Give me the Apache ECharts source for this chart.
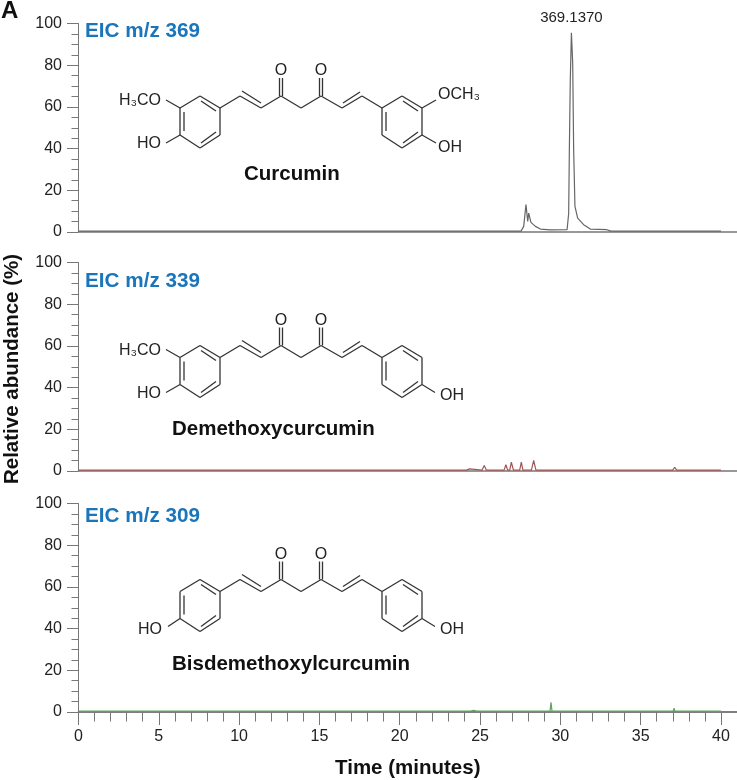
<!DOCTYPE html>
<html>
<head>
<meta charset="utf-8">
<title>EIC curcuminoids</title>
<script src="https://cdn.jsdelivr.net/npm/echarts@6/dist/echarts.min.js"></script>
<style>
  html, body { margin: 0; padding: 0; background: #fff; }
  #chart { width: 737px; height: 780px; }
</style>
</head>
<body>
<div id="chart"></div>
<script>
// values
const curcuminTime = [0, 10, 20, 27.55, 27.62, 27.72, 27.86, 27.97, 28.03, 28.17, 28.45, 28.76, 29.38, 30.42, 30.52, 30.56, 30.62, 30.69, 30.77, 30.83, 30.91, 31.08, 31.45, 31.87, 32.9, 33.15, 40]
const curcuminAbundance = [0.4, 0.4, 0.4, 0.4, 0.8, 2.7, 13.1, 5.1, 9.1, 4.6, 2.7, 1.4, 1.0, 1.1, 9, 38, 73, 95.5, 81, 39.5, 12.3, 6.7, 3.5, 1.4, 1.1, 0.4, 0.4]

const demethoxyTime = [0, 23.9, 24.02, 24.14, 24.25, 24.35, 24.45, 25.12, 25.26, 25.4, 26.5, 26.61, 26.72, 26.85, 26.95, 27.08, 27.47, 27.57, 27.67, 28.2, 28.34, 28.48, 37, 37.12, 37.24, 40]
const demethoxyAbundance = [0.4, 0.4, 1.0, 0.4, 0.4, 1.0, 0.4, 0.4, 2.6, 0.4, 0.4, 3.0, 0.4, 0.4, 4.2, 0.4, 0.4, 4.2, 0.4, 0.4, 5.1, 0.4, 0.4, 1.8, 0.4, 0.4]

const bisdemethoxyTime = [0, 24.4, 24.6, 24.8, 29.36, 29.42, 29.48, 37.03, 37.08, 37.13, 40]
const bisdemethoxyAbundance = [0.4, 0.4, 0.8, 0.4, 0.4, 4.6, 0.4, 0.4, 1.9, 0.4, 0.4]

const yTicks = [0, 20, 40, 60, 80, 100]
const xMajorTicks = [0, 5, 10, 15, 20, 25, 30, 35, 40]
const xMinorTicks = [...Array(41).keys()]

const panelNames = ['EIC m/z 369', 'EIC m/z 339', 'EIC m/z 309']
const compoundNames = ['Curcumin', 'Demethoxycurcumin', 'Bisdemethoxylcurcumin']
const peakLabel = '369.1370'

const FONT = '"Liberation Sans", Arial, sans-serif'
const AXIS_GRAY = '#777'
const panelTop = [23.5, 262.5, 503.5]
const PANEL_HEIGHT = 208.5

const pairs = (xs, ys) => xs.map((x, i) => [x, ys[i]])

const grids = panelTop.map(top => ({ left: 78.5, width: 658.5, top, height: PANEL_HEIGHT }))

const baseXAxis = (gridIndex) => ({
  type: 'value',
  gridIndex,
  position: 'bottom',
  min: 0,
  max: 41,
  splitLine: { show: false },
  axisLine: { onZero: false, lineStyle: { color: AXIS_GRAY, width: 1.5 } },
  axisTick: { show: false },
  axisLabel: { show: false }
})

const xAxes = [
  baseXAxis(0),
  baseXAxis(1),
  {
    ...baseXAxis(2),
    axisTick: { show: true, length: 13, customValues: xMajorTicks, lineStyle: { color: AXIS_GRAY } },
    axisLabel: {
      show: true,
      customValues: xMajorTicks,
      margin: 17,
      color: '#222',
      fontFamily: FONT,
      fontSize: 16
    },
    name: 'Time (minutes)',
    nameLocation: 'middle',
    nameGap: 46,
    nameTextStyle: { color: '#111', fontFamily: FONT, fontWeight: 'bold', fontSize: 20.5 }
  },
  {
    ...baseXAxis(2),
    axisTick: { show: true, length: 9.5, customValues: xMinorTicks, lineStyle: { color: AXIS_GRAY } }
  }
]

const yAxes = panelTop.map((_, gridIndex) => ({
  type: 'value',
  gridIndex,
  min: 0,
  max: 100,
  interval: 20,
  splitLine: { show: false },
  axisLine: { show: true, onZero: false, lineStyle: { color: AXIS_GRAY } },
  axisTick: { show: true, length: 11.5, lineStyle: { color: AXIS_GRAY } },
  minorTick: { show: true, splitNumber: 4, length: 7, lineStyle: { color: AXIS_GRAY } },
  axisLabel: {
    margin: 16.5,
    color: '#222',
    fontFamily: FONT,
    fontSize: 16,
    customValues: yTicks
  }
}))

const trace = (name, axisIndex, color, data, extra) => ({
  name,
  type: 'line',
  xAxisIndex: axisIndex,
  yAxisIndex: axisIndex,
  data,
  showSymbol: false,
  silent: true,
  lineStyle: { color, width: 1.2 },
  ...extra
})

// structure drawing
const STROKE = '#333'

const bond = (x1, y1, x2, y2, dy) => ({
  type: 'line',
  silent: true,
  shape: { x1, y1: y1 + dy, x2, y2: y2 + dy },
  style: { stroke: STROKE, lineWidth: 1.3 }
})

const atom = (text, x, y, align) => ({
  type: 'text',
  silent: true,
  style: { text, x, y, align, verticalAlign: 'middle', fill: '#222', font: '16px ' + FONT }
})

const ringBonds = (left, dy) => {
  const right = left + 40
  const mid = left + 20
  return [
    [left, 108, mid, 96], [mid, 96, right, 108], [right, 108, right, 135],
    [right, 135, mid, 148], [mid, 148, left, 135], [left, 135, left, 108],
    // inner lines of the aromatic doubles
    [left + 4, 112, left + 4, 131], [mid + 1, 101, right - 4, 111], [mid + 1, 143, right - 4, 132]
  ].map(b => bond(b[0], b[1], b[2], b[3], dy))
}

const chainBonds = [
  [220, 108, 240, 96], [240, 96, 261, 108], [242, 91, 261, 103],
  [261, 108, 281, 96], [279.5, 96, 279.5, 78], [282.5, 96, 282.5, 78],
  [281, 96, 301, 108], [301, 108, 321, 96], [319.5, 96, 319.5, 78], [322.5, 96, 322.5, 78],
  [321, 96, 342, 108], [342, 108, 362, 96], [343, 103, 360, 92], [362, 96, 382, 108]
]

const molecule = (dy, hasLeftMethoxy, hasRightMethoxy) => {
  const els = [...ringBonds(180, dy), ...ringBonds(382, dy)]
  chainBonds.forEach(b => els.push(bond(b[0], b[1], b[2], b[3], dy)))
  els.push(atom('O', 281, 71 + dy, 'center'), atom('O', 321, 71 + dy, 'center'))
  if (hasLeftMethoxy) {
    els.push(bond(180, 108, 166, 100, dy), bond(180, 135, 166, 143, dy))
    els.push(atom('H₃CO', 161, 101 + dy, 'right'), atom('HO', 161, 144 + dy, 'right'))
  } else {
    els.push(bond(180, 135, 168, 143, dy))
    els.push(atom('HO', 162, 146 + dy, 'right'))
  }
  if (hasRightMethoxy) {
    els.push(bond(422, 108, 436, 100, dy), bond(422, 135, 436, 143, dy))
    els.push(atom('OCH₃', 438, 95 + dy, 'left'), atom('OH', 438, 148 + dy, 'left'))
  } else {
    els.push(bond(422, 135, 435, 143, dy))
    els.push(atom('OH', 440, 146 + dy, 'left'))
  }
  return els
}

const caption = (text, x, y, fontSize, fill, align) => ({
  type: 'text',
  silent: true,
  style: { text, x, y, align: align || 'left', verticalAlign: 'middle', fill, font: 'bold ' + fontSize + 'px ' + FONT }
})

const BLUE = '#1a75bb'
const yTitle = {
  ...caption('Relative abundance (%)', 0, 0, 20.5, '#111', 'center'),
  x: 12.5,
  y: 369,
  rotation: Math.PI / 2
}
const graphics = [
  caption('A', 1, 11, 24, '#111'),
  caption(panelNames[0], 85, 31, 20.7, BLUE),
  caption(panelNames[1], 85, 281, 20.7, BLUE),
  caption(panelNames[2], 85, 516, 20.7, BLUE),
  caption(compoundNames[0], 244, 174, 20.5, '#111'),
  caption(compoundNames[1], 172, 429, 20.5, '#111'),
  caption(compoundNames[2], 172, 664, 20.5, '#111'),
  yTitle,
  ...molecule(0, true, true),
  ...molecule(249.5, true, false),
  ...molecule(483.5, false, false)
]

const chart = echarts.init(document.getElementById('chart'), null, { renderer: 'canvas' })
chart.setOption({
  animation: false,
  backgroundColor: '#fff',
  grid: grids,
  xAxis: xAxes,
  yAxis: yAxes,
  graphic: graphics,
  series: [
    trace('m/z 369', 0, '#666', pairs(curcuminTime, curcuminAbundance), {
      markPoint: {
        silent: true,
        symbol: 'circle',
        symbolSize: 0,
        data: [{ coord: [30.69, 95.5] }],
        label: {
          show: true,
          position: 'top',
          distance: 8,
          formatter: peakLabel,
          color: '#222',
          fontFamily: FONT,
          fontSize: 15
        }
      }
    }),
    trace('m/z 339', 1, '#a35555', pairs(demethoxyTime, demethoxyAbundance)),
    trace('m/z 309', 2, '#5fa35f', pairs(bisdemethoxyTime, bisdemethoxyAbundance))
  ]
})
</script>
</body>
</html>
